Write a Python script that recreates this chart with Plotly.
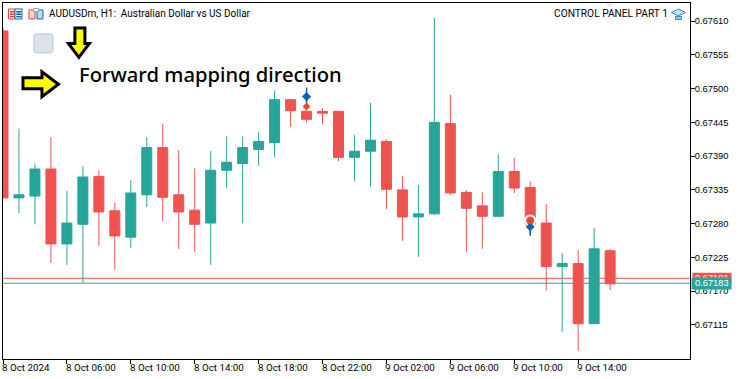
import plotly.graph_objects as go
import pandas as pd

start = "2024-10-08 02:00"
n_bars = 39
times = pd.date_range(start, periods=n_bars, freq="h")

opens = [0.67594,0.67322,0.67325,0.67369,0.67247,0.67279,0.67357,0.67301,0.67258,0.67327,
         0.67404,0.67327,0.67302,0.67281,0.67367,0.67378,0.67401,0.67412,0.67482,0.67463,
         0.67463,0.67463,0.67388,0.67398,0.67414,0.67335,0.67291,0.67296,0.67443,0.67331,
         0.67309,0.67292,0.67365,0.67339,0.67281,0.67210,0.67215,0.67117,0.67236]
highs = [0.67600,0.67435,0.67378,0.67421,0.67333,0.67374,0.67367,0.67314,0.67351,0.67421,
         0.67443,0.67400,0.67370,0.67398,0.67422,0.67422,0.67429,0.67497,0.67482,0.67480,
         0.67468,0.67464,0.67424,0.67477,0.67417,0.67357,0.67343,0.67615,0.67490,0.67335,
         0.67331,0.67393,0.67387,0.67349,0.67312,0.67232,0.67237,0.67273,0.67239]
lows =  [0.67322,0.67297,0.67279,0.67216,0.67213,0.67184,0.67244,0.67205,0.67241,0.67307,
         0.67284,0.67239,0.67234,0.67213,0.67338,0.67281,0.67374,0.67388,0.67438,0.67445,
         0.67442,0.67382,0.67349,0.67341,0.67304,0.67252,0.67226,0.67294,0.67327,0.67234,
         0.67239,0.67292,0.67330,0.67263,0.67171,0.67104,0.67073,0.67117,0.67172]
closes =[0.67322,0.67327,0.67369,0.67247,0.67281,0.67356,0.67299,0.67260,0.67330,0.67404,
         0.67323,0.67299,0.67279,0.67367,0.67380,0.67404,0.67414,0.67482,0.67464,0.67450,
         0.67460,0.67388,0.67398,0.67416,0.67336,0.67291,0.67296,0.67445,0.67330,0.67305,
         0.67292,0.67365,0.67338,0.67279,0.67210,0.67215,0.67117,0.67239,0.67182]

ask_price = 0.67191
bid_price = 0.67183
price_ticks = [0.67610,0.67555,0.67500,0.67445,0.67390,0.67335,0.67280,0.67225,0.67170,0.67115]
time_ticks = ["2024-10-08 02:00","2024-10-08 06:00","2024-10-08 10:00","2024-10-08 14:00","2024-10-08 18:00",
              "2024-10-08 22:00","2024-10-09 02:00","2024-10-09 06:00","2024-10-09 10:00","2024-10-09 14:00"]
time_labels = ["8 Oct 2024","8 Oct 06:00","8 Oct 10:00","8 Oct 14:00","8 Oct 18:00",
               "8 Oct 22:00","9 Oct 02:00","9 Oct 06:00","9 Oct 10:00","9 Oct 14:00"]
trade_times = ["2024-10-08 21:00","2024-10-09 11:00"]
trade_blue = [0.67487,0.67275]
trade_red = [0.67471,0.67285]

W, H = 739, 379
L, R, T, B = 2.5, 690.5, 2.5, 359.5
RED, TEAL = "#ef5350", "#26a69a"
LABEL_FONT = "Liberation Sans, sans-serif"
LABEL_SIZE = 9.3
TEXT_FONT = "Roboto, sans-serif"

def px(x): return (x - L) / (R - L)
def py(y): return (B - y) / (B - T)
def poly(pts):
    return "M" + " L".join(f"{px(x):.5f},{py(y):.5f}" for x, y in pts) + " Z"
def pshape(pts, fill, line, w=1):
    return dict(type="path", xref="paper", yref="paper", path=poly(pts), fillcolor=fill,
                line=dict(color=line, width=w), layer="above")
def prect(x0, y0, x1, y1, fill, line, w=1):
    return pshape([(x0,y0),(x1,y0),(x1,y1),(x0,y1)], fill, line, w)

fig = go.Figure()
fig.add_trace(go.Candlestick(
    x=times, open=opens, high=highs, low=lows, close=closes,
    increasing=dict(line=dict(color=TEAL, width=1), fillcolor=TEAL),
    decreasing=dict(line=dict(color=RED, width=1), fillcolor=RED),
    whiskerwidth=0, hoverinfo="skip", showlegend=False))
fig.add_trace(go.Scatter(x=trade_times[1:], y=trade_red[1:], mode="markers",
    marker=dict(symbol="circle-open", size=10, color="#ffffff", line=dict(color="#ffffff", width=2)), showlegend=False, hoverinfo="skip"))
fig.add_trace(go.Scatter(x=trade_times, y=trade_blue, mode="markers",
    marker=dict(symbol="line-ns-open", size=13, color="#0f62ad", line=dict(color="#0f62ad", width=1.5)), showlegend=False, hoverinfo="skip"))
fig.add_trace(go.Scatter(x=trade_times, y=trade_blue, mode="markers",
    marker=dict(symbol="diamond", size=7, color="#0f62ad"), showlegend=False, hoverinfo="skip"))
fig.add_trace(go.Scatter(x=trade_times, y=trade_red, mode="markers",
    marker=dict(symbol="diamond", size=6, color="#e8491d"), showlegend=False, hoverinfo="skip"))

shapes = [
    dict(type="line", xref="paper", x0=0, x1=1, yref="y", y0=ask_price, y1=ask_price, line=dict(color=RED, width=1), layer="below"),
    dict(type="line", xref="paper", x0=0, x1=1, yref="y", y0=bid_price, y1=bid_price, line=dict(color=TEAL, width=1), layer="below"),
    # on-chart controls
    pshape([(35,33.5),(51,33.5),(52.5,35),(52.5,51),(51,52.5),(35,52.5),(33.5,51),(33.5,35)], "#dde1ea", "#b5c6d6", 1),
    pshape([(74.5,27.5),(84.5,27.5),(84.5,43),(89,43),(78.5,57),(68,43),(74.5,43)], "#ffff00", "#000000", 3),
    pshape([(22.5,77.5),(41.5,77.5),(41.5,71.5),(58,84),(41.5,96.5),(41.5,88.5),(22.5,88.5)], "#ffff00", "#000000", 3),
    # list icon
    prect(8,8.5,14.5,18.5,"#ffffff","#e8433a",1), prect(14.5,8.5,21.5,18.5,"#ffffff","#0f62ad",1),
    prect(9.5,11,13.5,11.6,"#e8433a","#e8433a",1), prect(9.5,13.5,13.5,14,"#e8433a","#e8433a",1), prect(9.5,16,13.5,16.4,"#e8433a","#e8433a",1),
    prect(16,11,20.5,11.6,"#0f62ad","#0f62ad",1), prect(16,13.5,20.5,14,"#0f62ad","#0f62ad",1), prect(16,16,20.5,16.4,"#0f62ad","#0f62ad",1),
    # template icon
    prect(28.5,9.5,34.5,18.5,"#fbd9d3","#e8433a",1), prect(36.5,9.5,42.5,18.5,"#b9dcf2","#0f62ad",1),
    prect(33,8,38,11,"#ffffff","#a0a0a0",1),
    # graduation cap
    pshape([(676,16),(682,16),(682,19),(676,19)], "#9fd0ee", "#2f86c5", 1),
    pshape([(672,12),(679,8.5),(686,12),(679,15.5)], "#bfe2f7", "#2f86c5", 1),
    # one-click marker at the top of the chart
    pshape([(606,3),(614,3),(610,7)], "#e6e6e6", "#e6e6e6", 0),
    # price label background of the ask line
    dict(type="rect", xref="paper", yref="paper", x0=px(693), x1=px(732), y0=py(273), y1=py(284),
         fillcolor=RED, line=dict(width=0), layer="above"),
]

annotations = [
    dict(text="AUDUSDm, H1:\u00a0 Australian Dollar vs US Dollar", xref="paper", yref="paper", x=px(47), y=py(13.5),
         xanchor="left", yanchor="middle", showarrow=False, font=dict(family=TEXT_FONT, size=10, color="#000")),
    dict(text="CONTROL PANEL PART 1", xref="paper", yref="paper", x=px(670), y=py(13.5),
         xanchor="right", yanchor="middle", showarrow=False, font=dict(family=TEXT_FONT, size=10.2, color="#000")),
    dict(text="Forward mapping direction", xref="paper", yref="paper", x=px(77), y=py(73.5),
         xanchor="left", yanchor="middle", showarrow=False,
         font=dict(family="Noto Sans, sans-serif", size=20.2, weight=500, color="#000")),
    dict(text="0.67191", xref="paper", yref="y", x=px(712.5), y=ask_price, xanchor="center", yanchor="middle", showarrow=False,
         font=dict(family=LABEL_FONT, size=LABEL_SIZE, color="#fff")),
    dict(text="\u00a0", xref="paper", yref="paper", x=px(712.5), y=py(283.5), xanchor="center", yanchor="middle", showarrow=False,
         bgcolor=TEAL, borderpad=0, font=dict(family=LABEL_FONT, size=9, color="#fff"), width=39, height=11),
    dict(text="0.67183", xref="paper", yref="y", x=px(712.5), y=bid_price, xanchor="center", yanchor="middle", showarrow=False,
         font=dict(family=LABEL_FONT, size=LABEL_SIZE, color="#fff")),
]
for t, lab in zip(time_ticks, time_labels):
    annotations.append(dict(text=lab, x=t, xref="x", yref="paper", y=py(368.5), xanchor="left", yanchor="middle",
                            xshift=-3, showarrow=False, font=dict(family=TEXT_FONT, size=9.8, color="#000")))

fig.update_layout(
    width=W, height=H, margin=dict(l=L, r=W - R, t=T, b=H - B, pad=0, autoexpand=False),
    paper_bgcolor="#fff", plot_bgcolor="#fff", showlegend=False, shapes=shapes, annotations=annotations,
    xaxis=dict(type="date", range=[start, "2024-10-09 21:00"], rangeslider=dict(visible=False), showgrid=False,
               zeroline=False, showline=True, linecolor="#000", linewidth=1, mirror=True,
               tickmode="array", tickvals=time_ticks, ticks="outside", ticklen=4, tickcolor="#000",
               tickwidth=1, showticklabels=False),
    yaxis=dict(range=[0.670595, 0.676395], side="right", showgrid=False, zeroline=False, showline=True,
               linecolor="#000", linewidth=1, mirror=True, tickmode="array", tickvals=price_ticks,
               ticktext=[f"{v:.5f}" for v in price_ticks], ticks="outside", ticklen=4, tickcolor="#000", tickwidth=1,
               ticklabelstandoff=-2, tickfont=dict(family=LABEL_FONT, size=LABEL_SIZE, color="#000")),
    boxgap=0.375, boxgroupgap=0,
)
fig.write_html("out.html", config=dict(displayModeBar=False),
               post_script="document.body.style.margin='0';")
